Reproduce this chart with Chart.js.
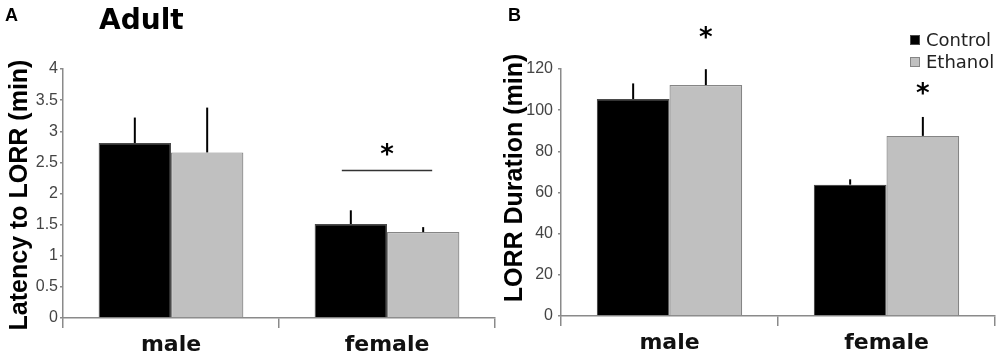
<!DOCTYPE html>
<html><head><meta charset="utf-8">
<script src="https://cdn.jsdelivr.net/npm/chart.js@4/dist/chart.umd.min.js"></script>
<style>
html,body{margin:0;padding:0;background:#fff;width:1000px;height:358px;overflow:hidden}
.wrap{position:absolute;top:0;height:358px;width:500px}
</style></head><body>
<div class="wrap" style="left:0"><canvas id="cA"></canvas></div>
<div class="wrap" style="left:500px"><canvas id="cB"></canvas></div>
<script>
// ---- data ----
const categories = ['male', 'female'];
const seriesNames = ['Control', 'Ethanol'];
const latencyTicks = [0, 0.5, 1, 1.5, 2, 2.5, 3, 3.5, 4];
const latencyControl = [2.81, 1.51];
const latencyEthanol = [2.66, 1.38];
const latencyControlErr = [0.41, 0.22];
const latencyEthanolErr = [0.72, 0.08];
const durationTicks = [0, 20, 40, 60, 80, 100, 120];
const durationControl = [105.4, 63.8];
const durationEthanol = [112.2, 87.5];
const durationControlErr = [7.6, 2.6];
const durationEthanolErr = [7.7, 9.2];
// significance marks: value positions in data units
const latencySigCategory = [1];
const latencySigLineValue = [2.37];
const latencySigStarValue = [2.70];
const durationStarCategory = [0, 1];
const durationStarSeries = [1, 1];
const durationStarValue = [137.5, 110.3];

const colors = ['#000000', '#c0c0c0'];
const borders = ['#4a4a4a', '#858585'];
const axisColor = '#8a8a8a';
const tickFont = {family: '"Liberation Sans", Arial, sans-serif', size: 16};
const catFont = {family: '"DejaVu Sans", sans-serif', size: 22, weight: 'bold'};

function datasets(a, b) {
  return [a, b].map((d, i) => ({
    label: seriesNames[i], data: d, backgroundColor: colors[i],
    borderColor: borders[i], borderWidth: 1.2, borderSkipped: 'start',
    categoryPercentage: 0.67, barPercentage: 1.0
  }));
}

function drawStar(ctx, x, y) {
  ctx.save();
  ctx.font = 'bold 26px "DejaVu Sans", sans-serif';
  ctx.fillStyle = '#000';
  ctx.textAlign = 'center';
  ctx.textBaseline = 'alphabetic';
  const m = ctx.measureText('*');
  const asc = m.actualBoundingBoxAscent, desc = m.actualBoundingBoxDescent;
  ctx.fillText('*', x, y + (asc - desc) / 2);
  ctx.restore();
}

function errorPlugin(errs) {
  return {
    id: 'errbars',
    afterDatasetsDraw(chart) {
      const ctx = chart.ctx, ys = chart.scales.y;
      ctx.save();
      ctx.strokeStyle = '#000';
      ctx.lineWidth = 2;
      chart.data.datasets.forEach((ds, i) => {
        chart.getDatasetMeta(i).data.forEach((bar, j) => {
          const top = ys.getPixelForValue(ds.data[j] + errs[i][j]);
          ctx.beginPath();
          ctx.moveTo(bar.x, bar.y);
          ctx.lineTo(bar.x, top);
          ctx.stroke();
        });
      });
      ctx.restore();
    }
  };
}

function yTitle(ctx, text, x, yc) {
  ctx.save();
  ctx.translate(x, yc);
  ctx.rotate(-Math.PI / 2);
  ctx.font = 'bold 25px "Liberation Sans", Arial, sans-serif';
  ctx.fillStyle = '#000';
  ctx.textAlign = 'center';
  ctx.textBaseline = 'alphabetic';
  ctx.fillText(text, 0, 0);
  ctx.restore();
}

function baseOptions(ticksArr, yWidth, xHeight, yPad) {
  return {
    responsive: true, maintainAspectRatio: false, animation: false,
    layout: {padding: {top: 69, right: 5, left: 0, bottom: 0}},
    plugins: {legend: {display: false}, tooltip: {enabled: false}},
    scales: {
      x: {
        offset: true,
        grid: {display: true, drawOnChartArea: false, offset: true, tickLength: 10, color: axisColor, lineWidth: 1.5},
        border: {color: axisColor, width: 1.5},
        ticks: {font: catFont, color: '#111', padding: 4},
        afterFit: s => { s.height = xHeight; }
      },
      y: {
        min: ticksArr[0], max: ticksArr[ticksArr.length - 1],
        grid: {display: true, drawOnChartArea: false, tickLength: 3, color: axisColor, lineWidth: 1.5},
        border: {color: axisColor, width: 1.5},
        ticks: {stepSize: ticksArr[1] - ticksArr[0], font: tickFont, color: '#444', padding: yPad,
                callback: v => String(v)},
        afterFit: s => { s.width = yWidth; }
      }
    }
  };
}

// ---- Panel A ----
const optA = baseOptions(latencyTicks, 63, 40, 2);
new Chart(document.getElementById('cA'), {
  type: 'bar',
  data: {labels: categories, datasets: datasets(latencyControl, latencyEthanol)},
  options: optA,
  plugins: [errorPlugin([latencyControlErr, latencyEthanolErr]), {
    id: 'decorA',
    afterDraw(chart) {
      const ctx = chart.ctx, ys = chart.scales.y;
      latencySigCategory.forEach((c, k) => {
        const x0 = chart.getDatasetMeta(0).data[c].x;
        const x1 = chart.getDatasetMeta(1).data[c].x;
        const ly = ys.getPixelForValue(latencySigLineValue[k]);
        ctx.save();
        ctx.strokeStyle = '#333'; ctx.lineWidth = 1.6;
        ctx.beginPath(); ctx.moveTo(x0 - 9, ly); ctx.lineTo(x1 + 9, ly); ctx.stroke();
        ctx.restore();
        drawStar(ctx, (x0 + x1) / 2, ys.getPixelForValue(latencySigStarValue[k]));
      });
      ctx.save();
      ctx.fillStyle = '#000';
      ctx.textBaseline = 'alphabetic';
      ctx.font = 'bold 18px "Liberation Sans", Arial, sans-serif';
      ctx.fillText('A', 5, 21);
      ctx.font = 'bold 28px "DejaVu Sans", sans-serif';
      ctx.fillText('Adult', 99, 29);
      ctx.restore();
      yTitle(ctx, 'Latency to LORR (min)', 27, 195);
    }
  }]
});

// ---- Panel B ----
const optB = baseOptions(durationTicks, 61, 42, 5);
new Chart(document.getElementById('cB'), {
  type: 'bar',
  data: {labels: categories, datasets: datasets(durationControl, durationEthanol)},
  options: optB,
  plugins: [errorPlugin([durationControlErr, durationEthanolErr]), {
    id: 'decorB',
    afterDraw(chart) {
      const ctx = chart.ctx, ys = chart.scales.y, ca = chart.chartArea;
      durationStarCategory.forEach((c, k) => {
        const x = chart.getDatasetMeta(durationStarSeries[k]).data[c].x;
        drawStar(ctx, x, ys.getPixelForValue(durationStarValue[k]));
      });
      // legend
      ctx.save();
      const lx = ca.right - 85;
      seriesNames.forEach((name, i) => {
        const cy = 40 + i * 22;
        ctx.fillStyle = colors[i];
        ctx.fillRect(lx, cy - 5, 10, 10);
        ctx.strokeStyle = borders[i];
        ctx.lineWidth = 1;
        ctx.strokeRect(lx + 0.5, cy - 4.5, 9, 9);
        ctx.fillStyle = '#222';
        ctx.font = '18px "DejaVu Sans", sans-serif';
        ctx.textBaseline = 'middle';
        ctx.fillText(name, lx + 16, cy + 1);
      });
      ctx.fillStyle = '#000';
      ctx.textBaseline = 'alphabetic';
      ctx.font = 'bold 18px "Liberation Sans", Arial, sans-serif';
      ctx.fillText('B', 8, 21);
      ctx.restore();
      yTitle(ctx, 'LORR Duration (min)', 22, 178);
    }
  }]
});
</script>
</body></html>
